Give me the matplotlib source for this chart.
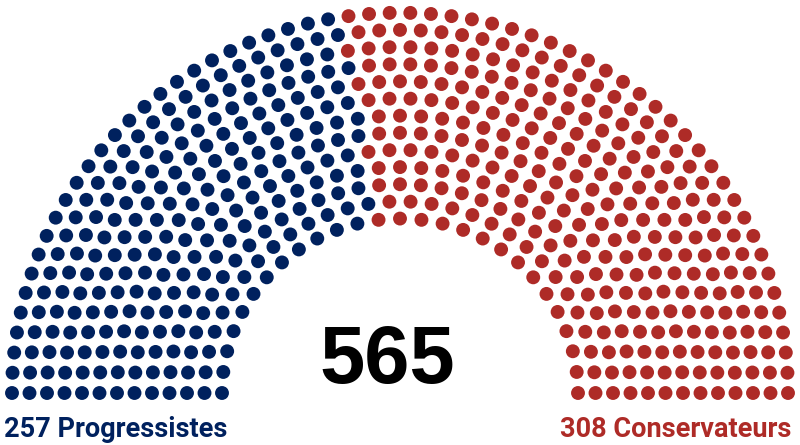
import numpy as np
import matplotlib
matplotlib.use("Agg")
import matplotlib.pyplot as plt

# données
partis = ["Progressistes", "Conservateurs"]
sieges = [257, 308]
couleurs = ["#00215e", "#ae2b27"]
nb_rangs = 13

total = sum(sieges)

# géométrie de l'hémicycle (en pixels)
cx, cy = 400, 393
r_ext, r_int = 388, 178
aplat = 0.98

rayons = np.linspace(r_int, r_ext, nb_rangs)
parts = total * rayons / rayons.sum()
par_rang = np.floor(parts).astype(int)
reste = total - par_rang.sum()
ordre = np.argsort(-(parts - par_rang))
par_rang[ordre[:reste]] += 1

angles = []
rs = []
for r, n in zip(rayons, par_rang):
    a = np.linspace(np.pi, 0, n)
    angles.extend(a)
    rs.extend([r] * n)
angles = np.array(angles)
rs = np.array(rs)

idx = np.lexsort((rs, -angles))
angles = angles[idx]
rs = rs[idx]

x = cx + rs * np.cos(angles)
y = cy - rs * np.sin(angles) * aplat

fig = plt.figure(figsize=(8, 4.45), dpi=100)
ax = fig.add_axes([0, 0, 1, 1])
ax.set_xlim(0, 800)
ax.set_ylim(445, 0)
ax.axis("off")

debut = 0
for n, c in zip(sieges, couleurs):
    ax.scatter(x[debut:debut + n], y[debut:debut + n], s=100, color=c,
               edgecolors="none")
    debut += n

ax.text(387, 362, str(total), ha="center", va="center", fontsize=58.5,
        fontweight="bold", family="Liberation Sans", color="black")
ax.text(4, 437, f"{sieges[0]} {partis[0]}", ha="left", va="baseline",
        fontsize=19.5, fontweight="bold", family="Roboto", color=couleurs[0])
ax.text(791, 437, f"{sieges[1]} {partis[1]}", ha="right", va="baseline",
        fontsize=19.5, fontweight="bold", family="Roboto", color=couleurs[1])

fig.savefig("out.png", dpi=100, facecolor="white")
